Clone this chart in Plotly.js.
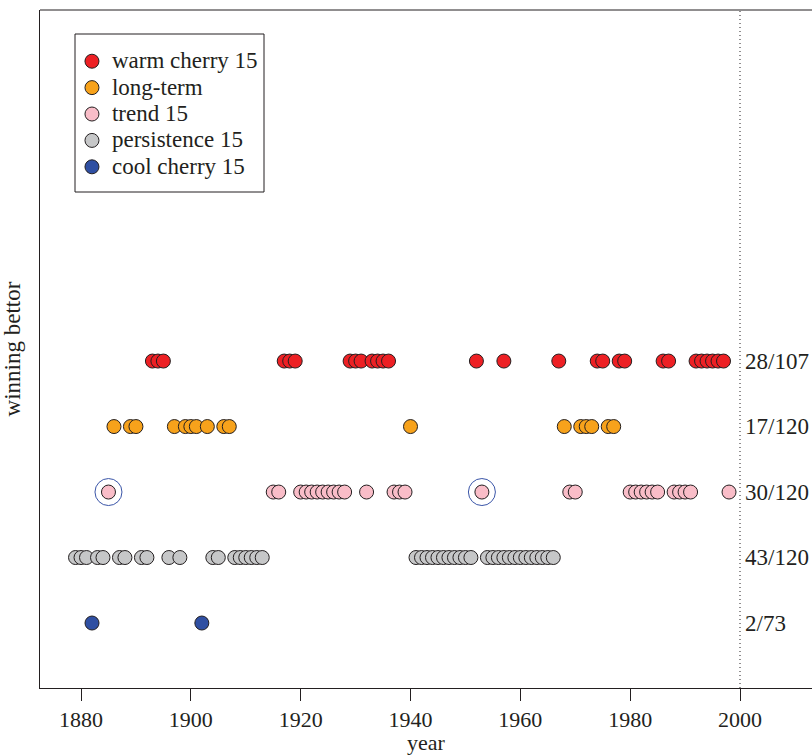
<!DOCTYPE html>
<html>
<head>
<meta charset="utf-8">
<script src="https://cdn.plot.ly/plotly-3.0.1.min.js"></script>
<style>
  html, body { margin: 0; padding: 0; background: #fff; overflow: hidden; }
  #chart { width: 812px; height: 755px; }
</style>
</head>
<body>
<div id="chart"></div>
<script>
// Winning years for each bettor (one row per bettor)
const warmCherry = [1893, 1894, 1895, 1917, 1918, 1919, 1929, 1930, 1931, 1933, 1934, 1935, 1936,
  1952, 1957, 1967, 1974, 1975, 1978, 1979, 1986, 1987, 1992, 1993, 1994, 1995, 1996, 1997];
const longTerm = [1886, 1889, 1890, 1897, 1899, 1900, 1901, 1903, 1906, 1907, 1940,
  1968, 1971, 1972, 1973, 1976, 1977];
const trend = [1885, 1915, 1916, 1920, 1921, 1922, 1923, 1924, 1925, 1926, 1927, 1928, 1932,
  1937, 1938, 1939, 1953, 1969, 1970, 1980, 1981, 1982, 1983, 1984, 1985, 1988, 1989, 1990, 1991, 1998];
const persistence = [1879, 1880, 1881, 1883, 1884, 1887, 1888, 1891, 1892, 1896, 1898,
  1904, 1905, 1908, 1909, 1910, 1911, 1912, 1913,
  1941, 1942, 1943, 1944, 1945, 1946, 1947, 1948, 1949, 1950, 1951,
  1954, 1955, 1956, 1957, 1958, 1959, 1960, 1961, 1962, 1963, 1964, 1965, 1966];
const coolCherry = [1882, 1902];

// Highlighted trend wins (ringed)
const ringedYears = [1885, 1953];

// Row labels and tallies
const bettorNames = ["warm cherry 15", "long-term", "trend 15", "persistence 15", "cool cherry 15"];
const bettorRows = [5, 4, 3, 2, 1];
const tallies = ["28/107", "17/120", "30/120", "43/120", "2/73"];
const bettorYears = [warmCherry, longTerm, trend, persistence, coolCherry];
const bettorColors = ["#ED2024", "#F7A21B", "#F9BDC8", "#C6C7C8", "#2F4FA2"];

const xTicks = [1880, 1900, 1920, 1940, 1960, 1980, 2000];

const ink = "#231F20";
const serif = "Liberation Serif, Times New Roman, serif";

const traces = bettorYears.map((years, i) => ({
  type: "scatter",
  mode: "markers",
  x: years,
  y: years.map(() => bettorRows[i]),
  name: '<span style="font-size:23px">' + bettorNames[i] + '</span>',
  marker: { size: 14, color: bettorColors[i], line: { color: ink, width: 1 } },
  hoverinfo: "x+name"
}));

traces.push({
  type: "scatter",
  mode: "markers",
  x: ringedYears,
  y: ringedYears.map(() => bettorRows[2]),
  showlegend: false,
  hoverinfo: "skip",
  marker: { symbol: "circle-open", size: 27, color: "#3A55A8", line: { color: "#3A55A8", width: 1 } }
});

const annotations = tallies.map((t, i) => ({
  x: 2000.5, y: bettorRows[i], xref: "x", yref: "y",
  text: t, showarrow: false, xanchor: "left", yanchor: "middle",
  font: { family: serif, size: 23, color: ink }
}));

const layout = {
  width: 812, height: 755,
  margin: { l: 40, r: 0, t: 10, b: 67 },
  paper_bgcolor: "#fff", plot_bgcolor: "#fff",
  font: { family: serif, size: 22, color: ink },
  showlegend: true,
  legend: {
    x: 0.0414, y: 0.9513, xanchor: "left", yanchor: "top",
    bgcolor: "rgba(0,0,0,0)", borderwidth: 0,
    font: { family: serif, size: 18, color: ink },
    itemclick: false, itemdoubleclick: false
  },
  xaxis: {
    range: [1872.53, 2013.11],
    tickvals: xTicks, ticktext: xTicks.map(String),
    ticks: "outside", ticklen: 12, tickwidth: 1, tickcolor: ink,
    showline: true, linecolor: ink, linewidth: 1,
    showgrid: false, zeroline: false,
    tickfont: { family: serif, size: 22, color: ink },
    title: { text: "year", font: { family: serif, size: 22, color: ink }, standoff: 4 }
  },
  yaxis: {
    range: [0.008, 10.36],
    showticklabels: false, ticks: "",
    showline: true, linecolor: ink, linewidth: 1,
    showgrid: false, zeroline: false,
    title: { text: "winning bettor", font: { family: serif, size: 23, color: ink }, standoff: 14 }
  },
  shapes: [
    // top edge of the plot frame
    { type: "line", xref: "paper", yref: "paper", x0: 0, x1: 1, y0: 1, y1: 1,
      line: { color: ink, width: 1 } },
    // year 2000 marker
    { type: "line", xref: "x", yref: "paper", x0: 2000, x1: 2000, y0: 0, y1: 1,
      line: { color: ink, width: 1, dash: "1px,3px" } },
    // legend frame
    { type: "rect", xref: "paper", yref: "paper", x0: 0.04534, x1: 0.29016, y0: 0.73156, y1: 0.96460,
      line: { color: ink, width: 1 }, fillcolor: "#fff", layer: "below" }
  ],
  annotations: annotations
};

Plotly.newPlot("chart", traces, layout, { displayModeBar: false, staticPlot: true });
</script>
</body>
</html>
